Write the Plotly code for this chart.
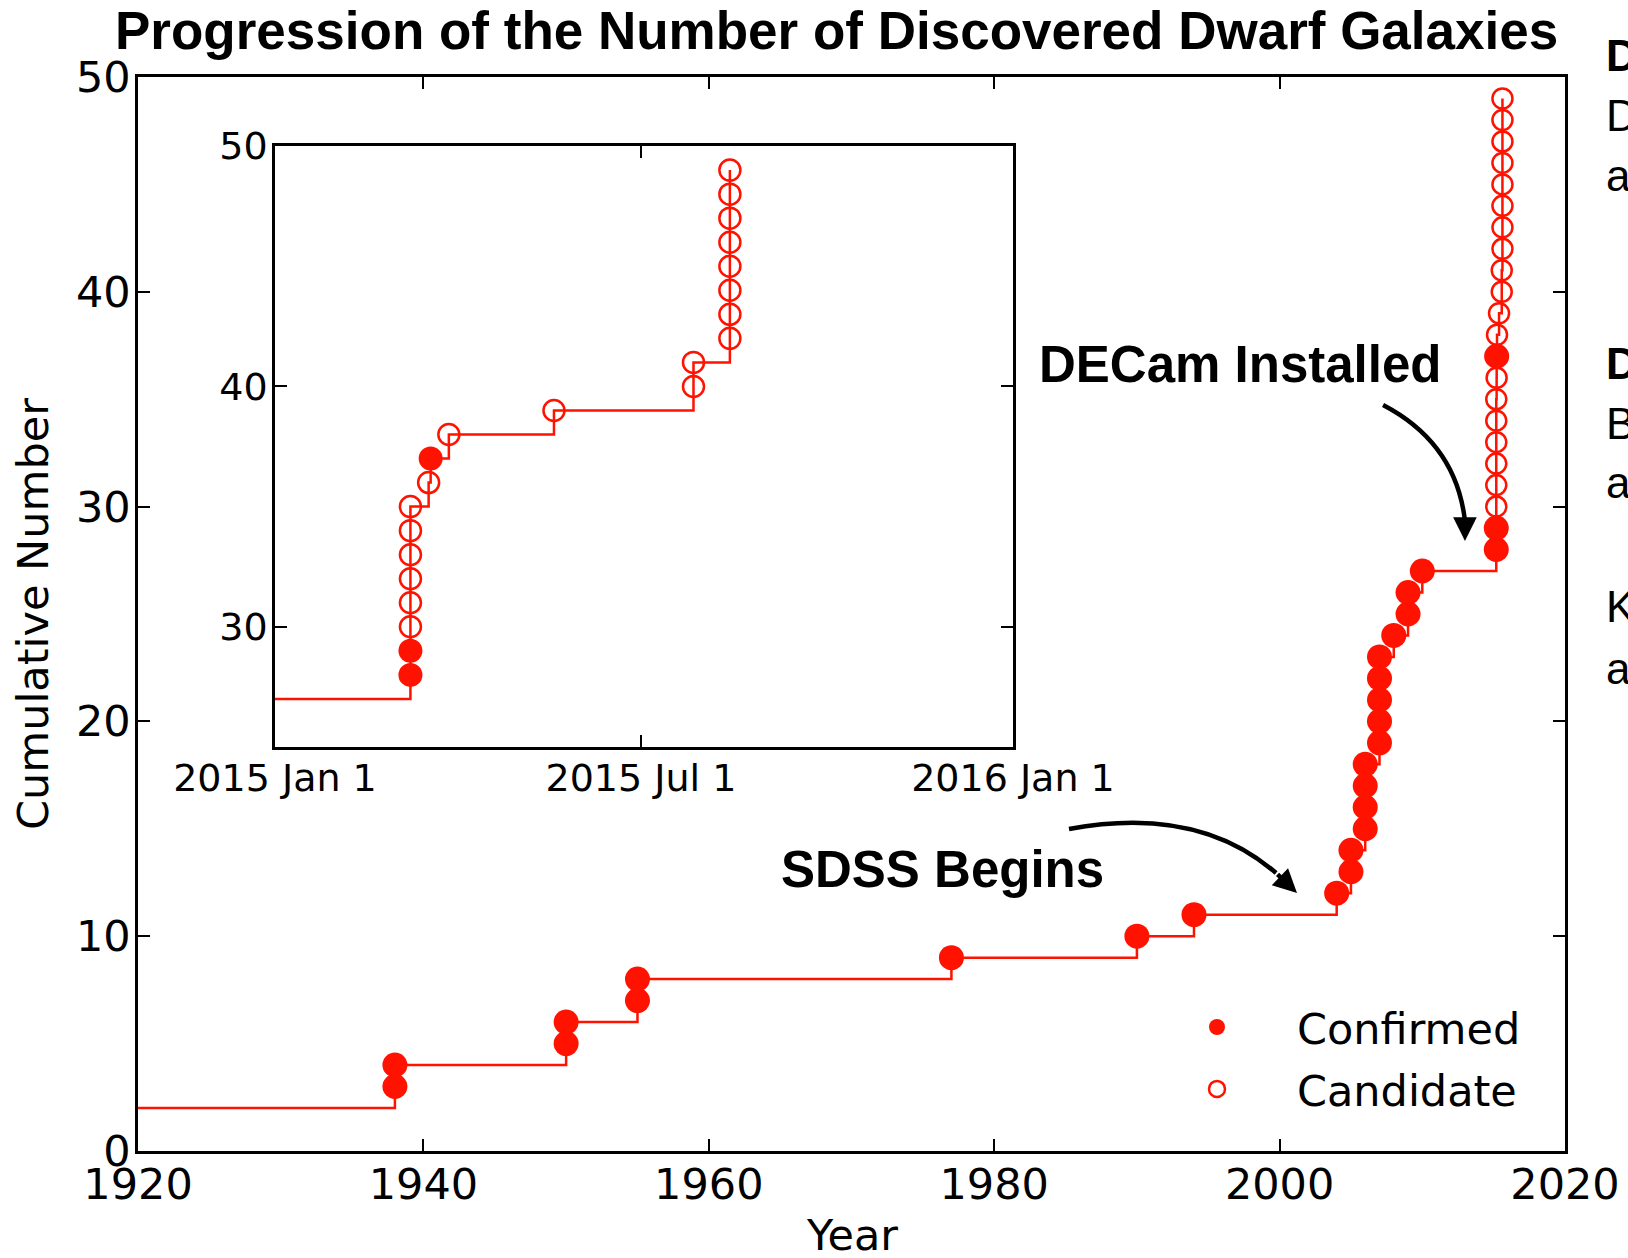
import pandas as pd
import plotly.graph_objects as go

# Satellites already known before the plotted period (Magellanic Clouds)
initial_count = 2

# Discovery years of confirmed Milky Way dwarf satellites up to 2010
early_years = [1938, 1938, 1950, 1950, 1955, 1955, 1977, 1990, 1994,
               2004, 2005, 2005, 2006, 2006, 2006, 2006,
               2007, 2007, 2007, 2007, 2007, 2008, 2009, 2009, 2010]

# 2015 announcements: date, number confirmed, number of candidates
dates_2015 = ["2015-03-09", "2015-03-18", "2015-03-19", "2015-03-28",
              "2015-05-19", "2015-07-27", "2015-08-14"]
confirmed_2015 = [2, 0, 1, 0, 0, 0, 0]
candidate_2015 = [6, 1, 0, 1, 1, 2, 8]

# Axis settings
main_xticks = [1920, 1940, 1960, 1980, 2000, 2020]
main_yticks = [0, 10, 20, 30, 40, 50]
inset_xticks = ["2015-01-01", "2015-07-01", "2016-01-01"]
inset_xticklabels = ["2015 Jan 1", "2015 Jul 1", "2016 Jan 1"]
inset_yticks = [30, 40, 50]

# ---- build the discovery sequence -------------------------------------
event_dates, event_status = [], []
for y in early_years:
    event_dates.append(f"{y}-01-01")
    event_status.append("Confirmed")
for d, nc, nk in zip(dates_2015, confirmed_2015, candidate_2015):
    event_dates += [d] * (nc + nk)
    event_status += ["Confirmed"] * nc + ["Candidate"] * nk

ts = pd.to_datetime(pd.Series(event_dates))
year_start = pd.to_datetime(ts.dt.year.astype(str) + "-01-01")
decimal_year = ts.dt.year + (ts - year_start).dt.days / 365.0
counts = [initial_count + i + 1 for i in range(len(event_dates))]

df = pd.DataFrame({"date": ts, "year": decimal_year, "n": counts,
                   "status": event_status})
conf = df[df.status == "Confirmed"]
cand = df[df.status == "Candidate"]

RED = "#ff1200"
TICK_FONT = dict(family="DejaVu Sans", size=43, color="black")
INSET_FONT = dict(family="DejaVu Sans", size=38, color="black")
BOLD = "Liberation Sans, Arial, sans-serif"

fig = go.Figure()

# ---- main panel ---------------------------------------------------------
fig.add_trace(go.Scatter(
    x=[main_xticks[0]] + list(df.year), y=[initial_count] + list(df.n),
    mode="lines", line=dict(color=RED, width=2.5, shape="hv"),
    showlegend=False, hoverinfo="skip", xaxis="x", yaxis="y"))
fig.add_trace(go.Scatter(
    x=conf.year, y=conf.n, mode="markers", name="Confirmed",
    marker=dict(symbol="circle", size=25, color=RED, line=dict(width=0)),
    xaxis="x", yaxis="y", legendgroup="c"))
fig.add_trace(go.Scatter(
    x=cand.year, y=cand.n, mode="markers", name="Candidate",
    marker=dict(symbol="circle-open", size=20, color=RED,
                line=dict(width=2.5, color=RED)),
    xaxis="x", yaxis="y", legendgroup="k"))

# ---- inset: 2015 in detail ---------------------------------------------
fig.add_trace(go.Scatter(
    x=df.date, y=df.n, mode="lines",
    line=dict(color=RED, width=2.5, shape="hv"),
    showlegend=False, hoverinfo="skip", xaxis="x2", yaxis="y2"))
fig.add_trace(go.Scatter(
    x=conf.date, y=conf.n, mode="markers",
    marker=dict(symbol="circle", size=24, color=RED, line=dict(width=0)),
    showlegend=False, xaxis="x2", yaxis="y2"))
fig.add_trace(go.Scatter(
    x=cand.date, y=cand.n, mode="markers",
    marker=dict(symbol="circle-open", size=21, color=RED,
                line=dict(width=2.5, color=RED)),
    showlegend=False, xaxis="x2", yaxis="y2"))

axis_common = dict(showline=True, linecolor="black", linewidth=2.5,
                   mirror="ticks", ticks="inside", ticklen=12,
                   tickwidth=1.5, tickcolor="black", showgrid=False,
                   zeroline=False, automargin=False)

fig.update_layout(
    template="none",
    width=1628, height=1258,
    margin=dict(l=0, r=0, t=0, b=0, autoexpand=False),
    paper_bgcolor="white", plot_bgcolor="white",
    xaxis=dict(domain=[0.0848, 0.9613], range=[1920, 2020],
               tickvals=main_xticks, tickfont=TICK_FONT,
               ticklabelstandoff=-6, anchor="y", **axis_common),
    yaxis=dict(domain=[0.0851, 0.9388], range=[0, 50],
               tickvals=main_yticks, tickfont=TICK_FONT,
               ticklabelstandoff=-4, anchor="x", **axis_common),
    xaxis2=dict(domain=[0.1689, 0.6222], type="date",
                range=["2015-01-01", "2016-01-01"],
                tickvals=inset_xticks, ticktext=inset_xticklabels,
                tickfont=INSET_FONT, ticklabelstandoff=-4, anchor="y2",
                **axis_common),
    yaxis2=dict(domain=[0.4062, 0.8839], range=[25, 50],
                tickvals=inset_yticks, tickfont=INSET_FONT,
                ticklabelstandoff=-3, anchor="x2", **axis_common),
    legend=dict(x=0.6984, y=0.211, xanchor="left", yanchor="top",
                font=dict(family="DejaVu Sans", size=43, color="black"),
                bgcolor="rgba(0,0,0,0)", itemwidth=150,
                tracegroupgap=3),
    showlegend=True,
)

# ---- title and axis titles --------------------------------------------
annotations = [
    dict(text="<b>Progression of the Number of Discovered Dwarf Galaxies</b>",
         x=0.5141, y=1 - 31 / 1258, xref="paper", yref="paper",
         xanchor="center", yanchor="middle", showarrow=False,
         font=dict(family=BOLD, size=53, color="black")),
    dict(text="Year", x=0.5, y=0.018, xref="x domain", yref="paper",
         xanchor="center", yanchor="middle", showarrow=False,
         font=TICK_FONT),
    dict(text="Cumulative Number", x=0.0203, y=0.5, xref="paper",
         yref="y domain", xanchor="center", yanchor="middle",
         textangle=-90, showarrow=False, font=TICK_FONT),
    dict(text="<b>DECam Installed</b>", x=1997.2, y=36.6, xref="x", yref="y",
         showarrow=False, xanchor="center", yanchor="middle",
         font=dict(family=BOLD, size=51, color="black")),
    dict(text="<b>SDSS Begins</b>", x=1976.4, y=13.1, xref="x", yref="y",
         showarrow=False, xanchor="center", yanchor="middle",
         font=dict(family=BOLD, size=51, color="black")),
    # arrowheads at the ends of the curved pointers
    dict(text="", x=2012.99, y=28.4, ax=2012.99, ay=29.33, xref="x",
         yref="y", axref="x", ayref="y", showarrow=True, arrowhead=2,
         arrowwidth=4.5, arrowsize=1.05, arrowcolor="black", standoff=0),
    dict(text="", x=2001.22, y=12.01, ax=1999.75, ay=12.94, xref="x",
         yref="y", axref="x", ayref="y", showarrow=True, arrowhead=2,
         arrowwidth=4.5, arrowsize=1.05, arrowcolor="black", standoff=0),
]

# text of the neighbouring column, cut at the right edge
side_letters = [("<b>D</b>", 55), ("D", 115), ("a", 176),
                ("<b>D</b>", 364), ("B", 423), ("a", 483),
                ("K", 606), ("a", 668)]
for txt, ypx in side_letters:
    annotations.append(dict(
        text=txt, x=1604 / 1628, y=1 - ypx / 1258, xref="paper",
        yref="paper", xanchor="left", yanchor="middle", showarrow=False,
        font=dict(family=BOLD, size=44, color="black")))

fig.update_layout(annotations=annotations)

# curved pointer shafts
fig.add_shape(type="path", xref="x", yref="y",
              path="M 2007.25,34.73 Q 2012.36,32.96 2012.99,29.33",
              line=dict(color="black", width=4.5))
fig.add_shape(type="path", xref="x", yref="y",
              path="M 1985.24,14.99 Q 1994.25,16.11 1999.75,12.94",
              line=dict(color="black", width=4.5))

fig.write_html("out.html")
